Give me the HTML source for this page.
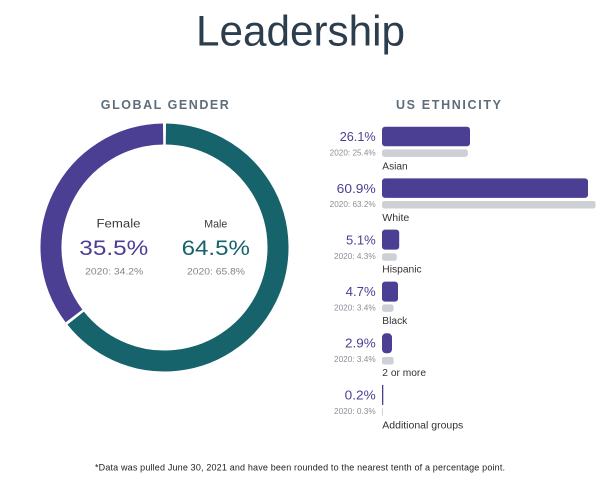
<!DOCTYPE html>
<html>
<head>
<meta charset="utf-8">
<style>
  html, body { margin: 0; padding: 0; background: #ffffff; }
  body { width: 600px; height: 487px; overflow: hidden; }
  svg { display: block; }
  text { font-family: "Liberation Sans", "DejaVu Sans", sans-serif; }
</style>
</head>
<body>
<svg width="600" height="487" viewBox="0 0 600 487" xmlns="http://www.w3.org/2000/svg">
  <rect x="0" y="0" width="600" height="487" fill="#ffffff"/>

  <!-- Title -->
  <text x="300.5" y="45.4" text-anchor="middle" font-size="43" fill="#2c3e4d" textLength="209" lengthAdjust="spacingAndGlyphs">Leadership</text>

  <!-- Section headers -->
  <text x="164.8" y="109" text-anchor="middle" font-size="12.5" font-weight="bold" fill="#5f6d7a" textLength="128" lengthAdjust="spacing">GLOBAL GENDER</text>
  <text x="448.5" y="109" text-anchor="middle" font-size="12.5" font-weight="bold" fill="#5f6d7a" textLength="105" lengthAdjust="spacing">US ETHNICITY</text>

  <!-- Donut -->
  <path d="M165.89 134.01 A113.5 113.5 0 1 1 75.67 318.15" fill="none" stroke="#17636b" stroke-width="21"/>
  <path d="M74.00 316.00 A113.5 113.5 0 0 1 163.11 134.01" fill="none" stroke="#4b3f94" stroke-width="21"/>

  <!-- Donut labels -->
  <text x="118.5" y="227.3" text-anchor="middle" font-size="11.5" fill="#3a3a3a" textLength="44" lengthAdjust="spacingAndGlyphs">Female</text>
  <text x="113.8" y="255" text-anchor="middle" font-size="21.5" fill="#4b3f94" textLength="69" lengthAdjust="spacingAndGlyphs">35.5%</text>
  <text x="114.2" y="274.5" text-anchor="middle" font-size="9.5" fill="#80858c" textLength="58" lengthAdjust="spacingAndGlyphs">2020: 34.2%</text>

  <text x="215.8" y="227.3" text-anchor="middle" font-size="11" fill="#3a3a3a" textLength="23" lengthAdjust="spacingAndGlyphs">Male</text>
  <text x="215.8" y="255" text-anchor="middle" font-size="21.5" fill="#17636b" textLength="68.3" lengthAdjust="spacingAndGlyphs">64.5%</text>
  <text x="216" y="274.5" text-anchor="middle" font-size="9.5" fill="#80858c" textLength="58" lengthAdjust="spacingAndGlyphs">2020: 65.8%</text>

  <!-- Bars: Asian (T=126.7) -->
  <text x="375.7" y="141.1" text-anchor="end" font-size="13" fill="#4b3f94" textLength="36" lengthAdjust="spacingAndGlyphs">26.1%</text>
  <rect x="382" y="126.7" width="88" height="19.5" rx="3" fill="#4b3f94"/>
  <text x="375.7" y="155.5" text-anchor="end" font-size="7.8" fill="#8a8f96" textLength="46" lengthAdjust="spacingAndGlyphs">2020: 25.4%</text>
  <rect x="382" y="149.4" width="85.9" height="7.5" rx="2.5" fill="#cdd1d6"/>
  <text x="382.3" y="169.4" font-size="10" fill="#333333" textLength="25.4" lengthAdjust="spacingAndGlyphs">Asian</text>

  <!-- White (T=178.35) -->
  <text x="375.7" y="192.75" text-anchor="end" font-size="13" fill="#4b3f94" textLength="39" lengthAdjust="spacingAndGlyphs">60.9%</text>
  <rect x="382" y="178.35" width="206" height="19.5" rx="3" fill="#4b3f94"/>
  <text x="375.7" y="207.15" text-anchor="end" font-size="7.8" fill="#8a8f96" textLength="46" lengthAdjust="spacingAndGlyphs">2020: 63.2%</text>
  <rect x="382" y="201.05" width="213.6" height="7.5" rx="2.5" fill="#cdd1d6"/>
  <text x="382.3" y="221.05" font-size="10" fill="#333333" textLength="27" lengthAdjust="spacingAndGlyphs">White</text>

  <!-- Hispanic (T=230) -->
  <text x="375.7" y="244.4" text-anchor="end" font-size="13" fill="#4b3f94" textLength="29.7" lengthAdjust="spacingAndGlyphs">5.1%</text>
  <rect x="382" y="229.6" width="17.2" height="20" rx="3" fill="#4b3f94"/>
  <text x="375.7" y="258.8" text-anchor="end" font-size="7.8" fill="#8a8f96" textLength="41.7" lengthAdjust="spacingAndGlyphs">2020: 4.3%</text>
  <rect x="382" y="253.3" width="14.8" height="7.5" rx="2.5" fill="#cdd1d6"/>
  <text x="382.3" y="272.5" font-size="10" fill="#333333" textLength="39.4" lengthAdjust="spacingAndGlyphs">Hispanic</text>

  <!-- Black (T=281.65) -->
  <text x="375.7" y="296.05" text-anchor="end" font-size="13" fill="#4b3f94" textLength="30" lengthAdjust="spacingAndGlyphs">4.7%</text>
  <rect x="382" y="281.65" width="16" height="20" rx="3" fill="#4b3f94"/>
  <text x="375.7" y="310.45" text-anchor="end" font-size="7.8" fill="#8a8f96" textLength="41.7" lengthAdjust="spacingAndGlyphs">2020: 3.4%</text>
  <rect x="382" y="304.35" width="11.6" height="7.5" rx="2.5" fill="#cdd1d6"/>
  <text x="382.3" y="324.2" font-size="10" fill="#333333" textLength="25" lengthAdjust="spacingAndGlyphs">Black</text>

  <!-- 2 or more (T=333.3) -->
  <text x="375.7" y="347.7" text-anchor="end" font-size="13" fill="#4b3f94" textLength="30.7" lengthAdjust="spacingAndGlyphs">2.9%</text>
  <rect x="382" y="333.3" width="10" height="20" rx="4" fill="#4b3f94"/>
  <text x="375.7" y="362.1" text-anchor="end" font-size="7.8" fill="#8a8f96" textLength="41.7" lengthAdjust="spacingAndGlyphs">2020: 3.4%</text>
  <rect x="382" y="357" width="11.6" height="7.5" rx="2" fill="#cdd1d6"/>
  <text x="382.3" y="376" font-size="10" fill="#333333" textLength="43.7" lengthAdjust="spacingAndGlyphs">2 or more</text>

  <!-- Additional groups (T=384.95) -->
  <text x="375.7" y="399.35" text-anchor="end" font-size="13" fill="#4b3f94" textLength="31" lengthAdjust="spacingAndGlyphs">0.2%</text>
  <rect x="382" y="384.95" width="1.3" height="20" fill="#4b3f94"/>
  <text x="375.7" y="413.75" text-anchor="end" font-size="7.8" fill="#8a8f96" textLength="41.7" lengthAdjust="spacingAndGlyphs">2020: 0.3%</text>
  <rect x="382" y="408.4" width="1" height="7.5" fill="#cdd1d6"/>
  <text x="382.3" y="428.4" font-size="10" fill="#333333" textLength="81" lengthAdjust="spacingAndGlyphs">Additional groups</text>

  <!-- Footer -->
  <text x="300" y="470.5" text-anchor="middle" font-size="9" fill="#222222" textLength="410" lengthAdjust="spacing">*Data was pulled June 30, 2021 and have been rounded to the nearest tenth of a percentage point.</text>
</svg>
</body>
</html>
